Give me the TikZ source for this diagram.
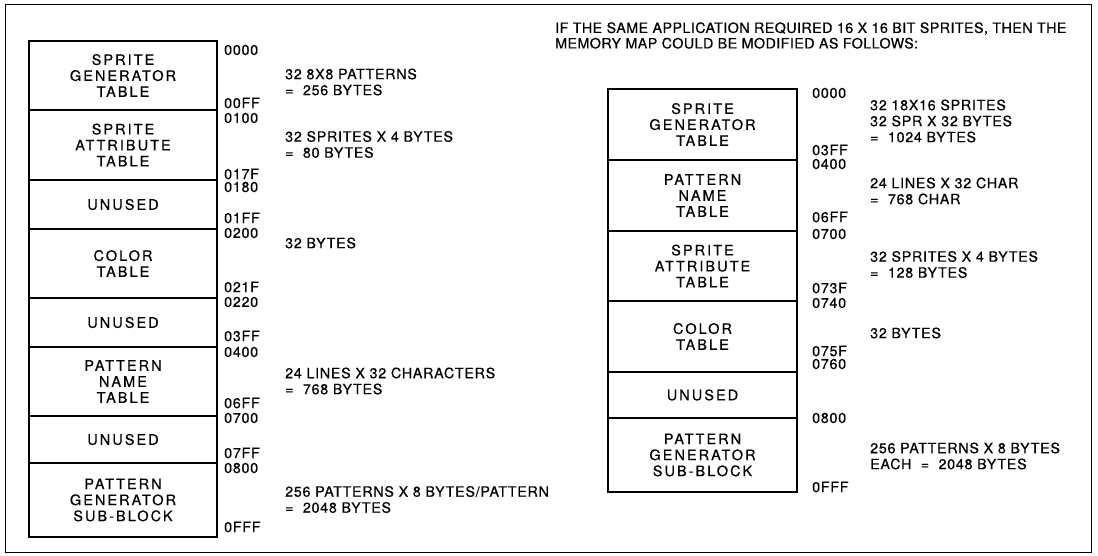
\documentclass[tikz,border=0pt]{standalone}
\usepackage{fontspec}
\setmainfont{TeX Gyre Heros}
\newfontfamily\mmlabelfam[LetterSpace=14,FakeBold=0.5]{TeX Gyre Heros}
\newfontfamily\mmtextfam[LetterSpace=5,FakeBold=0.5]{TeX Gyre Heros}
\newfontfamily\mmheadfam[LetterSpace=3,FakeBold=0.5]{TeX Gyre Heros}
\newcommand\mmlabelfont{\mmlabelfam\fontsize{14.5}{16}\selectfont}
\newcommand\mmtextfont{\mmtextfam\fontsize{14.3}{16}\selectfont}
\newcommand\mmheadfont{\mmheadfam\fontsize{14.3}{15.5}\selectfont}
\begin{document}
\begin{tikzpicture}[x=1pt,y=-1pt,
  memcell/.style={draw, line width=1.7pt, inner sep=0pt, align=center, font=\mmlabelfont},
  leftcell/.style={memcell, minimum width=188pt},
  rightcell/.style={memcell, minimum width=189pt},
  addr/.style={anchor=west, inner sep=0pt, font=\mmtextfont},
  desc/.style={anchor=west, inner sep=0pt, align=left, font=\mmtextfont},
  headtext/.style={anchor=west, inner sep=0pt, align=left, font=\mmheadfont},
  frame/.style={draw, line width=1pt}]
\useasboundingbox (0,0) rectangle (1098,556);
\node[frame, minimum width=1086pt, minimum height=547pt, inner sep=0pt] (outer) at (548,278.5) {};

% left memory map
\node[leftcell, minimum height=69pt] (l1) at (123,75.5) {SPRITE\\GENERATOR\\TABLE};
\node[leftcell, minimum height=70pt] (l2) at (123,145) {SPRITE\\ATTRIBUTE\\TABLE};
\node[leftcell, minimum height=49pt] (l3) at (123,204.5) {UNUSED};
\node[leftcell, minimum height=69pt] (l4) at (123,263.5) {COLOR\\TABLE};
\node[leftcell, minimum height=49pt] (l5) at (123,322.5) {UNUSED};
\node[leftcell, minimum height=69pt] (l6) at (123,381.5) {PATTERN\\NAME\\TABLE};
\node[leftcell, minimum height=47pt] (l7) at (123,439.5) {UNUSED};
\node[leftcell, minimum height=74pt] (l8) at (123,500) {PATTERN\\GENERATOR\\SUB-BLOCK};

\node[addr] (la0) at (224,50) {0000};
\node[addr] (la1) at (224,103) {00FF};
\node[addr] (la2) at (224,118) {0100};
\node[addr] (la3) at (224,174) {017F};
\node[addr] (la4) at (224,187) {0180};
\node[addr] (la5) at (224,218) {01FF};
\node[addr] (la6) at (224,233) {0200};
\node[addr] (la7) at (224,287) {021F};
\node[addr] (la8) at (224,302) {0220};
\node[addr] (la9) at (224,336) {03FF};
\node[addr] (la10) at (224,352) {0400};
\node[addr] (la11) at (224,403) {06FF};
\node[addr] (la12) at (224,418) {0700};
\node[addr] (la13) at (224,453) {07FF};
\node[addr] (la14) at (224,468) {0800};
\node[addr] (la15) at (224,527) {0FFF};

\node[desc] (ld1) at (285,82) {32 8X8 PATTERNS\\= \ 256 BYTES};
\node[desc] (ld2) at (285,144.5) {32 SPRITES X 4 BYTES\\= \ 80 BYTES};
\node[desc] (ld3) at (285,243) {32 BYTES};
\node[desc] (ld4) at (285,381) {24 LINES X 32 CHARACTERS\\= \ 768 BYTES};
\node[desc] (ld5) at (285,499.5) {256 PATTERNS X 8 BYTES/PATTERN\\= \ 2048 BYTES};

% header
\node[headtext] (head) at (555,35.5) {IF THE SAME APPLICATION REQUIRED 16 X 16 BIT SPRITES, THEN THE\\MEMORY MAP COULD BE MODIFIED AS FOLLOWS:};

% right memory map
\node[rightcell, minimum height=71pt] (r1) at (702.5,124.5) {SPRITE\\GENERATOR\\TABLE};
\node[rightcell, minimum height=71pt] (r2) at (702.5,195.5) {PATTERN\\NAME\\TABLE};
\node[rightcell, minimum height=70pt] (r3) at (702.5,266) {SPRITE\\ATTRIBUTE\\TABLE};
\node[rightcell, minimum height=71pt] (r4) at (702.5,336.5) {COLOR\\TABLE};
\node[rightcell, minimum height=46pt] (r5) at (702.5,395) {UNUSED};
\node[rightcell, minimum height=74pt] (r6) at (702.5,455) {PATTERN\\GENERATOR\\SUB-BLOCK};

\node[addr] (ra0) at (812,93) {0000};
\node[addr] (ra1) at (812,150) {03FF};
\node[addr] (ra2) at (812,164) {0400};
\node[addr] (ra3) at (812,217) {06FF};
\node[addr] (ra4) at (812,234) {0700};
\node[addr] (ra5) at (812,288) {073F};
\node[addr] (ra6) at (812,303) {0740};
\node[addr] (ra7) at (812,351) {075F};
\node[addr] (ra8) at (812,364) {0760};
\node[addr] (ra9) at (812,418) {0800};
\node[addr] (ra10) at (812,487) {0FFF};

\node[desc] (rd1) at (870,121) {32 18X16 SPRITES\\32 SPR X 32 BYTES\\= \ 1024 BYTES};
\node[desc] (rd2) at (870,191) {24 LINES X 32 CHAR\\= \ 768 CHAR};
\node[desc] (rd3) at (870,264.5) {32 SPRITES X 4 BYTES\\= \ 128 BYTES};
\node[desc] (rd4) at (870,333) {32 BYTES};
\node[desc] (rd5) at (870,456) {256 PATTERNS X 8 BYTES\\EACH \ = \ 2048 BYTES};
\end{tikzpicture}
\end{document}
